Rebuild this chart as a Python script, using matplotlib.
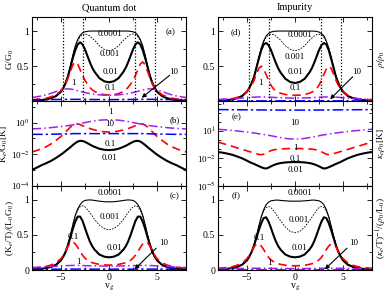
import numpy as np
import matplotlib
matplotlib.use("Agg")
import matplotlib.pyplot as plt
from matplotlib.ticker import MultipleLocator, FixedLocator, NullFormatter

plt.rcParams["font.family"] = "Liberation Serif"
plt.rcParams["mathtext.fontset"] = "stix"
plt.rcParams["font.size"] = 7

# gate voltage samples for v_g >= 0 (all curves are symmetric in v_g)
vg_half = [0, 0.5, 1, 1.5, 1.75, 2, 2.25, 2.5, 2.75, 3, 3.25, 3.5, 3.75,
           4, 4.25, 4.5, 4.75, 5, 5.5, 6, 6.5, 7, 7.5, 8]
params = ["0.0001", "0.001", "0.01", "0.1", "1", "10"]

# (a) quantum dot, G/G0
a_0001 = [1.0, 1.0, 1.0, 1.0, 1.0, 1.0, 0.995, 0.99, 0.975, 0.94, 0.88, 0.79, 0.66, 0.51, 0.37, 0.27, 0.19, 0.14, 0.075, 0.045, 0.028, 0.018, 0.012, 0.009]
a_001 = [0.72, 0.74, 0.79, 0.87, 0.90, 0.93, 0.95, 0.96, 0.95, 0.92, 0.86, 0.78, 0.65, 0.50, 0.37, 0.27, 0.19, 0.14, 0.075, 0.045, 0.028, 0.018, 0.012, 0.009]
a_01 = [0.27, 0.285, 0.33, 0.42, 0.48, 0.56, 0.65, 0.74, 0.81, 0.84, 0.81, 0.73, 0.62, 0.49, 0.36, 0.26, 0.19, 0.135, 0.075, 0.045, 0.028, 0.018, 0.012, 0.009]
a_1 = [0.09, 0.095, 0.11, 0.14, 0.165, 0.2, 0.245, 0.3, 0.37, 0.45, 0.53, 0.56, 0.52, 0.43, 0.33, 0.25, 0.19, 0.15, 0.095, 0.065, 0.045, 0.035, 0.028, 0.022]
a_10 = [0.085, 0.087, 0.092, 0.1, 0.105, 0.11, 0.117, 0.125, 0.133, 0.142, 0.151, 0.16, 0.168, 0.174, 0.177, 0.176, 0.17, 0.162, 0.14, 0.115, 0.093, 0.077, 0.064, 0.055]
a_100 = [0.024, 0.024, 0.025, 0.025, 0.026, 0.026, 0.026, 0.027, 0.027, 0.027, 0.028, 0.028, 0.028, 0.028, 0.028, 0.028, 0.027, 0.027, 0.026, 0.025, 0.024, 0.023, 0.022, 0.021]

# (b) quantum dot, K_e/G0 [K]
b_01 = [0.018, 0.019, 0.022, 0.029, 0.034, 0.041, 0.05, 0.06, 0.068, 0.07, 0.063, 0.05, 0.038, 0.028, 0.021, 0.016, 0.012, 0.0092, 0.0058, 0.0038, 0.0027, 0.002, 0.0014, 0.001]
b_1 = [0.25, 0.26, 0.29, 0.34, 0.38, 0.42, 0.48, 0.55, 0.64, 0.74, 0.82, 0.82, 0.7, 0.52, 0.37, 0.26, 0.18, 0.13, 0.075, 0.045, 0.03, 0.022, 0.017, 0.014]
b_10 = [1.5, 1.48, 1.42, 1.3, 1.23, 1.15, 1.08, 1.0, 0.93, 0.87, 0.81, 0.76, 0.72, 0.68, 0.64, 0.61, 0.58, 0.56, 0.52, 0.48, 0.45, 0.43, 0.41, 0.4]
b_100 = [0.2, 0.2, 0.2, 0.2, 0.2, 0.2, 0.2, 0.2, 0.2, 0.2, 0.2, 0.2, 0.2, 0.195, 0.195, 0.19, 0.19, 0.19, 0.185, 0.185, 0.18, 0.18, 0.18, 0.18]

# (c) quantum dot, (K_e/T)/(L0 G0)
c_0001 = [0.97, 0.972, 0.98, 0.99, 0.995, 0.998, 0.995, 0.99, 0.97, 0.93, 0.87, 0.78, 0.65, 0.5, 0.37, 0.27, 0.19, 0.14, 0.075, 0.045, 0.028, 0.018, 0.012, 0.009]
c_001 = [0.57, 0.59, 0.64, 0.72, 0.77, 0.82, 0.86, 0.9, 0.915, 0.9, 0.85, 0.77, 0.65, 0.5, 0.37, 0.27, 0.19, 0.14, 0.075, 0.045, 0.028, 0.018, 0.012, 0.009]
c_01 = [0.18, 0.19, 0.22, 0.29, 0.34, 0.41, 0.5, 0.6, 0.7, 0.76, 0.76, 0.69, 0.59, 0.47, 0.36, 0.26, 0.19, 0.135, 0.075, 0.045, 0.028, 0.018, 0.012, 0.009]
c_1 = [0.07, 0.072, 0.08, 0.095, 0.105, 0.12, 0.14, 0.17, 0.21, 0.26, 0.32, 0.37, 0.4, 0.39, 0.34, 0.27, 0.21, 0.16, 0.105, 0.072, 0.052, 0.04, 0.032, 0.026]
c_10 = [0.055, 0.056, 0.057, 0.058, 0.059, 0.06, 0.061, 0.062, 0.063, 0.064, 0.065, 0.065, 0.065, 0.064, 0.063, 0.062, 0.06, 0.058, 0.054, 0.05, 0.046, 0.042, 0.039, 0.036]
c_100 = [0.012, 0.012, 0.012, 0.012, 0.012, 0.012, 0.012, 0.012, 0.013, 0.013, 0.013, 0.013, 0.013, 0.013, 0.013, 0.013, 0.013, 0.012, 0.012, 0.012, 0.011, 0.011, 0.011, 0.01]

# (d) impurity, rho/rho0
d_0001 = [1.0, 1.0, 1.0, 1.0, 1.0, 0.998, 0.995, 0.985, 0.965, 0.93, 0.86, 0.76, 0.63, 0.49, 0.36, 0.26, 0.19, 0.14, 0.075, 0.045, 0.028, 0.018, 0.012, 0.009]
d_001 = [0.72, 0.74, 0.79, 0.87, 0.9, 0.93, 0.95, 0.955, 0.945, 0.91, 0.85, 0.76, 0.63, 0.49, 0.36, 0.26, 0.19, 0.14, 0.075, 0.045, 0.028, 0.018, 0.012, 0.009]
d_01 = [0.26, 0.275, 0.32, 0.41, 0.47, 0.55, 0.64, 0.73, 0.8, 0.83, 0.81, 0.73, 0.61, 0.48, 0.35, 0.26, 0.19, 0.135, 0.075, 0.045, 0.028, 0.018, 0.012, 0.009]
d_1 = [0.085, 0.088, 0.097, 0.115, 0.13, 0.15, 0.18, 0.23, 0.3, 0.38, 0.46, 0.5, 0.47, 0.39, 0.3, 0.23, 0.18, 0.14, 0.085, 0.055, 0.038, 0.028, 0.022, 0.018]
d_10 = [0.045, 0.046, 0.048, 0.05, 0.052, 0.054, 0.056, 0.058, 0.06, 0.061, 0.062, 0.062, 0.062, 0.061, 0.059, 0.057, 0.054, 0.051, 0.046, 0.041, 0.037, 0.033, 0.03, 0.027]
d_100 = [0.006, 0.006, 0.006, 0.006, 0.006, 0.006, 0.006, 0.006, 0.006, 0.006, 0.006, 0.006, 0.006, 0.006, 0.006, 0.006, 0.006, 0.006, 0.005, 0.005, 0.005, 0.005, 0.005, 0.005]

# (e) impurity, kappa_e rho0 [K]
e_01 = [0.0039, 0.0038, 0.00355, 0.003, 0.00263, 0.00219, 0.00174, 0.00132, 0.00095, 0.00076, 0.00083, 0.00105, 0.00138, 0.00182, 0.0024, 0.0031, 0.004, 0.0056, 0.01, 0.0158, 0.024, 0.032, 0.041, 0.049]
e_1 = [0.117, 0.117, 0.112, 0.105, 0.1, 0.093, 0.083, 0.069, 0.052, 0.038, 0.028, 0.025, 0.026, 0.032, 0.038, 0.046, 0.055, 0.066, 0.095, 0.138, 0.2, 0.29, 0.42, 0.6]
e_10 = [1.26, 1.32, 1.51, 1.86, 2.09, 2.34, 2.63, 2.95, 3.31, 3.72, 4.07, 4.47, 4.9, 5.37, 5.89, 6.31, 6.92, 7.41, 8.51, 9.77, 11.0, 12.3, 13.8, 15.1]
e_100 = [1900, 1900, 1900, 1910, 1910, 1920, 1920, 1930, 1940, 1950, 1960, 1970, 1980, 1990, 2000, 2010, 2020, 2030, 2050, 2070, 2090, 2110, 2130, 2150]

# (f) impurity, (kappa_e/T)^-1/(rho0/L0)
f_0001 = [0.98, 0.98, 0.985, 0.99, 0.995, 0.995, 0.99, 0.985, 0.965, 0.93, 0.86, 0.76, 0.63, 0.49, 0.36, 0.26, 0.19, 0.14, 0.075, 0.045, 0.028, 0.018, 0.012, 0.009]
f_001 = [0.53, 0.55, 0.61, 0.7, 0.75, 0.8, 0.85, 0.89, 0.905, 0.89, 0.84, 0.76, 0.63, 0.49, 0.36, 0.26, 0.19, 0.14, 0.075, 0.045, 0.028, 0.018, 0.012, 0.009]
f_01 = [0.18, 0.19, 0.22, 0.29, 0.34, 0.41, 0.5, 0.6, 0.69, 0.75, 0.74, 0.67, 0.57, 0.46, 0.35, 0.26, 0.19, 0.135, 0.075, 0.045, 0.028, 0.018, 0.012, 0.009]
f_1 = [0.06, 0.062, 0.068, 0.08, 0.09, 0.1, 0.12, 0.145, 0.18, 0.23, 0.29, 0.34, 0.37, 0.37, 0.33, 0.27, 0.21, 0.16, 0.1, 0.068, 0.048, 0.037, 0.03, 0.025]
f_10 = [0.02, 0.02, 0.021, 0.022, 0.022, 0.023, 0.023, 0.024, 0.024, 0.025, 0.025, 0.025, 0.025, 0.025, 0.025, 0.024, 0.024, 0.023, 0.022, 0.021, 0.02, 0.019, 0.018, 0.017]
f_100 = [0.004, 0.004, 0.004, 0.004, 0.004, 0.004, 0.004, 0.004, 0.004, 0.004, 0.004, 0.004, 0.004, 0.004, 0.004, 0.004, 0.004, 0.004, 0.004, 0.004, 0.004, 0.004, 0.004, 0.004]

# Coulomb peak positions marked with dotted lines
peak_lines = [-4.75, -2.75, 2.75, 4.75]

styles = {
    "0.0001": dict(color="black", lw=0.8, ls="-"),
    "0.001": dict(color="black", lw=0.6, ls=(0, (2, 1.5))),
    "0.01": dict(color="black", lw=1.5, ls="-"),
    "0.1": dict(color="#ff0000", lw=1.2, ls=(0, (5, 3))),
    "1": dict(color="#a020f0", lw=1.1, ls=(0, (6, 2, 1, 2))),
    "10": dict(color="#0000ff", lw=1.1, ls=(0, (7, 2, 1.5, 2))),
}


def mirror(h):
    h = np.asarray(h, dtype=float)
    return np.concatenate([h[::-1], h[1:]])


vg = np.concatenate([-np.asarray(vg_half[::-1], dtype=float), np.asarray(vg_half[1:], dtype=float)])


def draw(ax, curves):
    for p, y in curves:
        ax.plot(vg, mirror(y), **styles[p])


def setup(ax, bottom=False):
    ax.set_xlim(-8, 8)
    ax.xaxis.set_major_locator(MultipleLocator(5))
    ax.xaxis.set_minor_locator(MultipleLocator(2.5))
    ax.tick_params(which="both", direction="in", top=True, right=True, width=0.6, pad=2,
                   labelsize=7)
    ax.tick_params(which="major", length=3.5)
    ax.tick_params(which="minor", length=2)
    if not bottom:
        ax.tick_params(labelbottom=False)
    else:
        ax.set_xlabel(r"v$_{\rm g}$", labelpad=0, fontsize=7)
    for s in ax.spines.values():
        s.set_linewidth(0.8)


def lin_axis(ax, show0):
    ax.set_ylim(0, 1.2)
    ax.set_yticks([0, 0.5, 1])
    ax.set_yticklabels(["0" if show0 else "", "0.5", "1"])
    ax.yaxis.set_minor_locator(MultipleLocator(0.25))


def log_axis(ax, lo, hi, labeled, labels, minor):
    ax.set_yscale("log")
    ax.set_ylim(lo, hi)
    ax.yaxis.set_major_locator(FixedLocator(labeled))
    ax.set_yticklabels(labels, fontsize=6.5)
    ax.yaxis.set_minor_locator(FixedLocator(minor))
    ax.yaxis.set_minor_formatter(NullFormatter())


fig = plt.figure(figsize=(3.9, 2.95), dpi=100)
W, H = 390.0, 295.0
cols = [32 / W, 218 / W]
cw = 154 / W
rows = [(295 - 101.3) / H, (295 - 185.7) / H, (295 - 270) / H]
rh = 84.3 / H

ax_a = fig.add_axes([cols[0], rows[0], cw, rh])
ax_b = fig.add_axes([cols[0], rows[1], cw, rh])
ax_c = fig.add_axes([cols[0], rows[2], cw, rh])
ax_d = fig.add_axes([cols[1], rows[0], cw, rh])
ax_e = fig.add_axes([cols[1], rows[1], cw, rh])
ax_f = fig.add_axes([cols[1], rows[2], cw, rh])

# ---- quantum dot ----
draw(ax_a, zip(params, [a_0001, a_001, a_01, a_1, a_10, a_100]))
draw(ax_b, zip(params[2:], [b_01, b_1, b_10, b_100]))
draw(ax_c, zip(params, [c_0001, c_001, c_01, c_1, c_10, c_100]))
# ---- impurity ----
draw(ax_d, zip(params, [d_0001, d_001, d_01, d_1, d_10, d_100]))
draw(ax_e, zip(params[2:], [e_01, e_1, e_10, e_100]))
draw(ax_f, zip(params, [f_0001, f_001, f_01, f_1, f_10, f_100]))

for ax in (ax_a, ax_d):
    for xv in peak_lines:
        ax.axvline(xv, color="black", lw=0.9, ls=(0, (1, 1.5)))

for ax in (ax_a, ax_b, ax_d, ax_e):
    setup(ax)
for ax in (ax_c, ax_f):
    setup(ax, bottom=True)

lin_axis(ax_a, False)
lin_axis(ax_d, False)
lin_axis(ax_c, True)
lin_axis(ax_f, True)
log_axis(ax_b, 1e-4, 22, [1e-4, 1e-2, 1], [r"10$^{-4}$", r"10$^{-2}$", r"10$^{0}$"],
         [1e-3, 1e-1, 10])
log_axis(ax_e, 1e-5, 1.7e4, [1e-5, 1e-2, 10], [r"10$^{-5}$", r"10$^{-2}$", r"10$^{1}$"],
         [1e-4, 1e-3, 1e-1, 1, 100, 1000, 1e4])

# y labels
ylab_fs = 6.8
ax_a.set_ylabel(r"G/G$_0$", labelpad=1, fontsize=ylab_fs)
ax_b.set_ylabel(r"K$_e$/G$_0$[K]", labelpad=0.5, fontsize=ylab_fs)
ax_c.set_ylabel(r"(K$_e$/T)/(L$_0$G$_0$)", labelpad=1, fontsize=ylab_fs)
for ax, lab in ((ax_d, r"$\rho/\rho_0$"), (ax_e, r"$\kappa_e\rho_0$[K]"),
                (ax_f, r"($\kappa_e$/T)$^{-1}$/($\rho_0$/L$_0$)")):
    ax.yaxis.set_label_position("right")
    ax.set_ylabel(lab, rotation=90, labelpad=2, fontsize=ylab_fs)

fig.text((32 + 77) / W, 1 - 8 / H, "Quantum dot", ha="center", va="center", fontsize=7.5)
fig.text((218 + 77) / W, 1 - 8 / H, "Impurity", ha="center", va="center", fontsize=7.5)

fs = 6.5
kw = dict(ha="center", va="center", fontsize=fs)

# panel annotations
ax_a.text(6.4, 0.99, "(a)", **kw)
ax_a.text(0.1, 0.955, "0.0001", **kw)
ax_a.text(0.1, 0.68, "0.001", **kw)
ax_a.text(0.2, 0.41, "0.01", **kw)
ax_a.text(0.1, 0.19, "0.1", **kw)
ax_a.text(-3.7, 0.26, "1", **kw)
ax_a.text(6.7, 0.42, "10", **kw)

ax_b.text(6.8, 1.4, "(b)", **kw)
ax_b.text(0.1, 4.8, "1", **kw)
ax_b.text(0.1, 0.78, "10", **kw)
ax_b.text(0.1, 0.044, "0.1", **kw)
ax_b.text(0.1, 0.006, "0.01", **kw)

ax_c.text(6.8, 1.05, "(c)", **kw)
ax_c.text(0.1, 1.09, "0.0001", **kw)
ax_c.text(0.1, 0.75, "0.001", **kw)
ax_c.text(0.6, 0.31, "0.01", **kw)
ax_c.text(-3.7, 0.47, "0.1", **kw)
ax_c.text(-3.2, 0.12, "1", **kw)
ax_c.text(5.7, 0.38, "10", **kw)

ax_d.text(-6.1, 0.99, "(d)", **kw)
ax_d.text(0.5, 0.945, "0.0001", **kw)
ax_d.text(0.0, 0.63, "0.001", **kw)
ax_d.text(0.0, 0.42, "0.01", **kw)
ax_d.text(0.0, 0.19, "0.1", **kw)
ax_d.text(-3.6, 0.26, "1", **kw)
ax_d.text(6.4, 0.42, "10", **kw)

ax_e.text(-6.1, 350, "(e)", **kw)
ax_e.text(0.0, 83, "10", **kw)
ax_e.text(0.0, 0.15, "1", **kw)
ax_e.text(0.0, 0.0093, "0.1", **kw)
ax_e.text(0.0, 0.00058, "0.01", **kw)

ax_f.text(-6.1, 1.05, "(f)", **kw)
ax_f.text(0.5, 1.09, "0.0001", **kw)
ax_f.text(0.35, 0.71, "0.001", **kw)
ax_f.text(0.5, 0.31, "0.01", **kw)
ax_f.text(-3.7, 0.45, "0.1", **kw)
ax_f.text(-2.7, 0.10, "1", **kw)
ax_f.text(6.1, 0.38, "10", **kw)

arrow = dict(arrowstyle="-|>", color="black", lw=0.8, mutation_scale=6, shrinkA=0, shrinkB=0)
ax_a.annotate("", xy=(3.4, 0.05), xytext=(6.3, 0.37), arrowprops=arrow)
ax_d.annotate("", xy=(3.65, 0.03), xytext=(6.0, 0.35), arrowprops=arrow)
ax_c.annotate("", xy=(2.65, 0.01), xytext=(4.9, 0.31), arrowprops=arrow)
ax_f.annotate("", xy=(3.1, 0.01), xytext=(5.4, 0.31), arrowprops=arrow)

fig.savefig("out.png", dpi=100)
